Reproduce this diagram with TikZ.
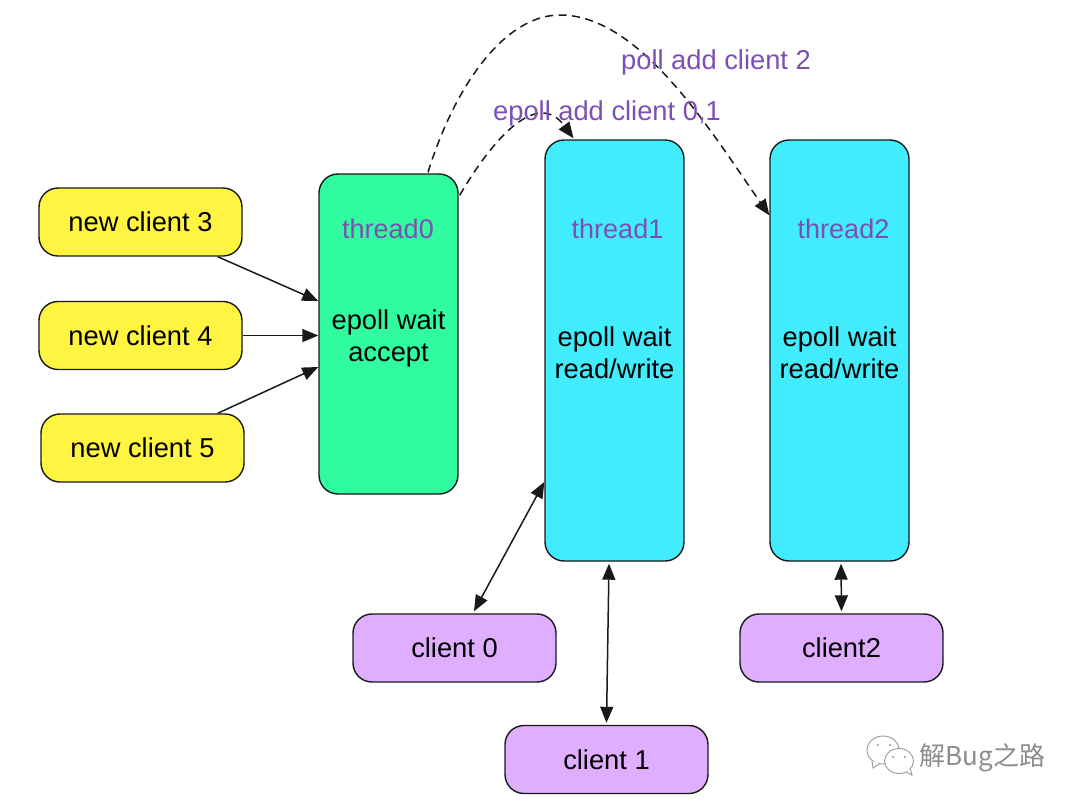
\documentclass[tikz,border=0pt]{standalone}
\usepackage{fontspec}
\setmainfont{Liberation Sans}
\newfontfamily\cjkwm{Noto Sans CJK SC}
\usetikzlibrary{arrows.meta}
\definecolor{yel}{HTML}{FFF441}
\definecolor{grn}{HTML}{30FC9F}
\definecolor{cya}{HTML}{41ECFC}
\definecolor{pur}{HTML}{E0AEFF}
\definecolor{lab}{HTML}{7B4FB6}
\newcommand{\lowr}[1]{\raisebox{-1.2pt}{#1}}
\tikzset{
  base/.style={draw=black!90,line width=1.4pt,rounded corners=19pt,inner sep=0pt,font=\fontsize{27.3}{32}\selectfont,text=black},
  newbox/.style={base,fill=yel,minimum width=203pt,minimum height=68pt},
  clientbox/.style={base,fill=pur,minimum width=203pt,minimum height=68pt},
  thrbox/.style={base,minimum width=139pt},
  thrlabel/.style={font=\fontsize{27}{32}\selectfont,text=lab,inner sep=0pt},
  steplabel/.style={font=\fontsize{27.3}{32}\selectfont,text=black,align=center,inner sep=0pt},
  conn/.style={draw=black!90,line width=1.5pt,-{Triangle[length=16pt,width=13pt]}},
  biconn/.style={draw=black!90,line width=1.5pt,{Triangle[length=16pt,width=13pt]}-{Triangle[length=16pt,width=13pt]}},
  dconn/.style={conn,dash pattern=on 8pt off 5.5pt},
  wm/.style={draw=black!40,line width=0.9pt,fill=white}
}
\begin{document}
\begin{tikzpicture}[x=1pt,y=-1pt]
\useasboundingbox (0,0) rectangle (1080,807);
\node[newbox] (n3) at (140.5,222) {\lowr{new client 3}};
\node[newbox] (n4) at (140.5,335.5) {\lowr{new client 4}};
\node[newbox] (n5) at (142.5,448) {\lowr{new client 5}};
\node[thrbox,fill=grn,minimum height=320pt] (t0) at (388.5,334) {};
\node[thrbox,fill=cya,minimum height=421pt] (t1) at (614.5,350.5) {};
\node[thrbox,fill=cya,minimum height=421pt] (t2) at (839.5,350.5) {};
\node[thrlabel] (l0) at (388,229) {thread0};
\node[thrlabel] (l1) at (617.5,229) {thread1};
\node[thrlabel] (l2) at (843.5,229) {thread2};
\node[steplabel] (s0) at (388.5,338) {epoll wait\\accept};
\node[steplabel] (s1) at (614.5,352.5) {epoll wait\\read/write};
\node[steplabel] (s2) at (839.5,352.5) {epoll wait\\read/write};
\node[clientbox] (c0) at (454.5,648) {\lowr{client 0}};
\node[clientbox] (c1) at (606.5,759.5) {\lowr{client 1}};
\node[clientbox] (c2) at (841.5,648) {\lowr{client2}};
\draw[conn] ([xshift=-25pt]n3.south east) -- ([yshift=33pt,xshift=0pt]t0.west);
\draw[conn] (n4.east) -- ([yshift=-1.5pt]t0.west);
\draw[conn] ([xshift=-27pt]n5.north east) -- ([yshift=-33pt]t0.west);
\draw[biconn] ([xshift=19.5pt,yshift=2pt]c0.north) -- ([yshift=-131.5pt]t1.west);
\draw[biconn] ([yshift=2pt]c1.north) -- ([xshift=-5.5pt,yshift=-2pt]t1.south);
\draw[biconn] ([yshift=2pt]c2.north) -- ([xshift=1.5pt,yshift=-2pt]t2.south);
\draw[dconn] ([xshift=1pt,yshift=-22pt]t0.north east) .. controls (495,135) and (538,90) .. ([xshift=-41pt,yshift=1pt]t1.north);
\draw[dconn] ([xshift=39.5pt,yshift=1pt]t0.north) .. controls (455,85) and (505,15) .. (560,15) .. controls (640,15) and (710,130) .. ([yshift=-76pt]t2.north west);
\node[font=\fontsize{27.3}{32}\selectfont,text=lab,inner sep=0pt] (p2) at (716,62) {poll add client 2};
\node[font=\fontsize{27.3}{32}\selectfont,text=lab,inner sep=0pt] (p1) at (607,113) {epoll add client 0,1};
% watermark
\draw[wm] (883,750) circle[x radius=16pt,y radius=14pt];
\draw[wm] (872,761) -- (873,768) -- (880,763);
\draw[wm] (899,761) circle[x radius=14.5pt,y radius=12.5pt];
\draw[wm] (906,772) -- (912,775) -- (910,768);
\fill[black!40] (878,745) circle (1.2pt) (890,745) circle (1.2pt) (893,757) circle (1.2pt) (905,757) circle (1.2pt);
\node[font=\cjkwm\fontsize{26}{30}\selectfont,text=black!45,inner sep=0pt] (wt) at (982.5,758) {解Bug之路};
\end{tikzpicture}
\end{document}
